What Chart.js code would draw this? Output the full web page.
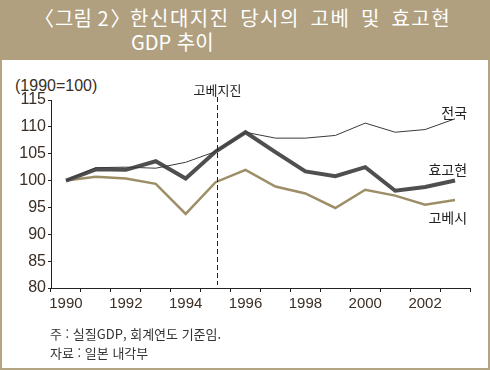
<!DOCTYPE html>
<html lang="ko">
<head>
<meta charset="UTF-8">
<title>고베 및 효고현 GDP 추이</title>
<script src="https://cdn.jsdelivr.net/npm/chart.js"></script>
<style>
  html, body { margin: 0; padding: 0; background: #fff; }
  .wrap { position: relative; width: 490px; height: 370px; overflow: hidden; font-family: "Noto Sans CJK KR", "Noto Sans", sans-serif; }
  .frame { position: absolute; left: 0; top: 0; width: 486px; height: 368px; border: 2px solid #b3a482; border-top: none; }
  .head { position: absolute; left: 0; top: 0; width: 490px; height: 60px; background: #b0a07f; color: #fff; }
  .head .l1 { position: absolute; left: 45px; top: 4px; font-size: 20px; line-height: 28px; white-space: nowrap; }
  .head .l2 { position: absolute; left: 131px; top: 28px; font-size: 20px; line-height: 28px; white-space: nowrap; }
  .head .bo { margin-left: -11px; margin-right: 1px; }
  .head .bc { margin-left: 2px; margin-right: -6px; }
  .head .rest { word-spacing: 3.5px; letter-spacing: 1.5px; }
  .unit { position: absolute; left: 15px; top: 77px; font: 16px "Liberation Sans", Arial, sans-serif; color: #3a2e25; }
  .note { position: absolute; left: 50px; font-size: 13px; color: #333; white-space: nowrap; }
  canvas { position: absolute; left: 0; top: 0; }
</style>
</head>
<body>
<div class="wrap">
  <div class="frame"></div>
  <div class="head">
    <div class="l1"><span class="bo">〈</span>그림 2<span class="bc">〉</span> <span class="rest">한신대지진 당시의 고베 및 효고현</span></div>
    <div class="l2">GDP 추이</div>
  </div>
  <div class="unit">(1990=100)</div>
  <canvas id="gdpChart" width="490" height="370"></canvas>
  <div class="note" style="top:324px">주 : 실질GDP, 회계연도 기준임.</div>
  <div class="note" style="top:343px">자료 : 일본 내각부</div>
</div>
<script>
  // 연도 및 지수 (1990=100)
  const years = ['1990','1991','1992','1993','1994','1995','1996','1997','1998','1999','2000','2001','2002','2003'];
  const national = [100, 102.4, 102.5, 102.3, 103.4, 105.4, 109.0, 107.9, 107.9, 108.4, 110.7, 109.0, 109.5, 111.5];
  const hyogo    = [100, 102.1, 102.0, 103.6, 100.4, 105.4, 109.0, 105.3, 101.7, 100.8, 102.5, 98.1, 98.8, 100.0];
  const kobe     = [100, 100.7, 100.4, 99.4, 93.8, 99.7, 102.0, 98.9, 97.6, 94.9, 98.3, 97.2, 95.5, 96.4];
  const seriesNames = ['전국', '효고현', '고베시'];
  const quakeYear = '1995';
  const quakeLabel = '고베지진';

  const tickColor = '#3a2e25';

  const annotations = {
    id: 'annotations',
    afterDraw(chart) {
      const ctx = chart.ctx;
      const x = chart.scales.x, y = chart.scales.y;
      const qx = Math.round(x.getPixelForValue(years.indexOf(quakeYear))) + 1.5;
      ctx.save();
      ctx.strokeStyle = '#222';
      ctx.lineWidth = 1;
      ctx.setLineDash([5, 3]);
      ctx.beginPath();
      ctx.moveTo(qx, 97);
      ctx.lineTo(qx, y.bottom - 3);
      ctx.stroke();
      ctx.setLineDash([]);
      ctx.fillStyle = '#222';
      ctx.font = '13px "Noto Sans CJK KR"';
      ctx.textAlign = 'center';
      ctx.textBaseline = 'middle';
      ctx.fillText(quakeLabel, qx, 90);

      ctx.font = '14px "Noto Sans CJK KR"';
      ctx.textAlign = 'right';
      const lastX = x.getPixelForValue(years.length - 1) + 12;
      ctx.fillText(seriesNames[0], lastX, y.getPixelForValue(national[13]) - 6);
      ctx.fillText(seriesNames[1], lastX, y.getPixelForValue(hyogo[13]) - 11);
      ctx.fillText(seriesNames[2], lastX, y.getPixelForValue(kobe[13]) + 18);
      ctx.restore();
    }
  };

  new Chart(document.getElementById('gdpChart'), {
    type: 'line',
    data: {
      labels: years,
      datasets: [
        { label: seriesNames[0], data: national, borderColor: '#3a3a3a', borderWidth: 1 },
        { label: seriesNames[1], data: hyogo, borderColor: '#4f4f51', borderWidth: 4 },
        { label: seriesNames[2], data: kobe, borderColor: '#9e8e68', borderWidth: 2.5 }
      ]
    },
    options: {
      responsive: false,
      animation: false,
      devicePixelRatio: 1,
      elements: { point: { radius: 0 }, line: { tension: 0, borderJoinStyle: 'miter' } },
      layout: { padding: { top: 100, right: 20, left: 0, bottom: 0 } },
      plugins: { legend: { display: false }, tooltip: { enabled: false } },
      scales: {
        x: {
          type: 'category',
          offset: true,
          afterFit(s) { s.height = 82; },
          grid: { offset: true, drawOnChartArea: false, drawTicks: true, tickLength: 4, color: '#222' },
          border: { display: true, color: '#222', width: 1 },
          ticks: {
            autoSkip: false, maxRotation: 0, padding: 3, color: tickColor,
            font: { family: '"Liberation Sans", Arial, sans-serif', size: 15 },
            callback(v, i) { return i % 2 === 0 ? years[i] : ''; }
          }
        },
        y: {
          min: 80, max: 115,
          afterFit(s) { s.width = 51; },
          grid: { drawOnChartArea: false, drawTicks: true, tickLength: 3, color: '#222' },
          border: { display: true, color: '#222', width: 1 },
          ticks: {
            stepSize: 5, padding: 2, color: tickColor,
            font: { family: '"Liberation Sans", Arial, sans-serif', size: 16 }
          }
        }
      }
    },
    plugins: [annotations]
  });
</script>
</body>
</html>
